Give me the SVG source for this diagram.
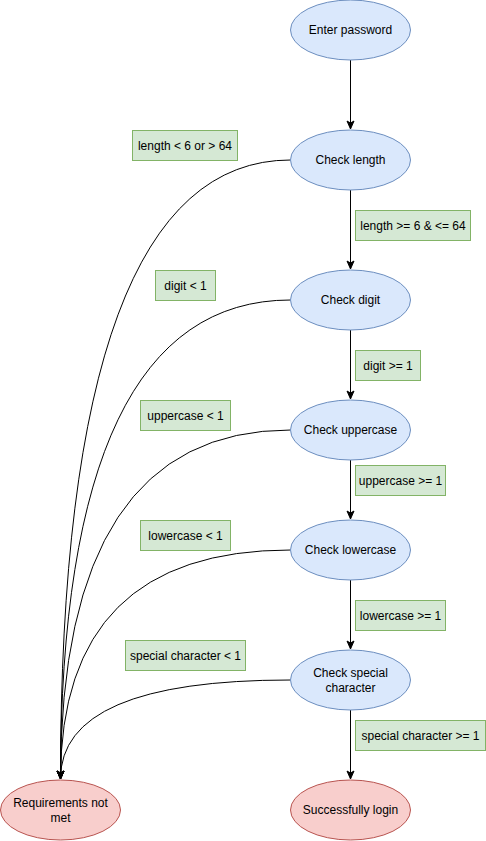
<svg xmlns="http://www.w3.org/2000/svg" width="486" height="841" viewBox="0 0 486 841">
<defs>
<marker id="arr" markerWidth="10" markerHeight="10" viewBox="0 0 10 10" refX="9" refY="5" orient="auto" markerUnits="userSpaceOnUse">
<path d="M1,1.5 L9,5 L1,8.5 L3,5 Z" fill="#000" stroke="#000" stroke-width="1"/>
</marker>
</defs>
<style>
text{font-family:"Liberation Sans",Arial,sans-serif;font-size:12px;fill:#000;text-anchor:middle}
.b{fill:#dae8fc;stroke:#6c8ebf;stroke-width:1}
.r{fill:#f8cecc;stroke:#b85450;stroke-width:1}
.g{fill:#d5e8d4;stroke:#82b366;stroke-width:1}
.e{fill:none;stroke:#000;stroke-width:1;marker-end:url(#arr)}
</style>
<rect width="486" height="841" fill="#fff"/>
<g id="connectors">
<path class="e" d="M350.5,60 L350.5,129"/>
<path class="e" d="M350.5,190 L350.5,269"/>
<path class="e" d="M350.5,330 L350.5,399"/>
<path class="e" d="M350.5,460 L350.5,519"/>
<path class="e" d="M350.5,580 L350.5,649"/>
<path class="e" d="M350.5,710 L350.5,779"/>
<path class="e" d="M290.5,160 Q60.5,160 60.5,779"/>
<path class="e" d="M290.5,300 Q60.5,300 60.5,779"/>
<path class="e" d="M290.5,430 Q60.5,430 60.5,779"/>
<path class="e" d="M290.5,550 Q60.5,550 60.5,779"/>
<path class="e" d="M290.5,680 Q60.5,680 60.5,779"/>
</g>
<g id="labels">
<g id="l1"><rect class="g" x="355.5" y="210.5" width="115" height="30"/><text x="413" y="229.5">length &gt;= 6 &amp; &lt;= 64</text></g>
<g id="l2"><rect class="g" x="355.5" y="350.5" width="65" height="30"/><text x="388" y="369.5">digit &gt;= 1</text></g>
<g id="l3"><rect class="g" x="355.5" y="465.5" width="90" height="30"/><text x="400.5" y="484.5">uppercase &gt;= 1</text></g>
<g id="l4"><rect class="g" x="355.5" y="600.5" width="90" height="30"/><text x="400.5" y="619.5">lowercase &gt;= 1</text></g>
<g id="l5"><rect class="g" x="355.5" y="720.5" width="130" height="30"/><text x="420.5" y="739.5">special character &gt;= 1</text></g>
<g id="l6"><rect class="g" x="132.5" y="130.5" width="105" height="30"/><text x="185" y="149.5">length &lt; 6 or &gt; 64</text></g>
<g id="l7"><rect class="g" x="155.5" y="270.5" width="60" height="30"/><text x="185.5" y="289.5">digit &lt; 1</text></g>
<g id="l8"><rect class="g" x="140.5" y="400.5" width="90" height="30"/><text x="185.5" y="419.5">uppercase &lt; 1</text></g>
<g id="l9"><rect class="g" x="140.5" y="520.5" width="90" height="30"/><text x="185.5" y="539.5">lowercase &lt; 1</text></g>
<g id="l10"><rect class="g" x="125.5" y="640.5" width="120" height="30"/><text x="185.5" y="659.5">special character &lt; 1</text></g>
</g>
<g id="enter"><ellipse class="b" cx="350.5" cy="30" rx="60" ry="30"/><text x="350.5" y="34">Enter password</text></g>
<g id="length"><ellipse class="b" cx="350.5" cy="160" rx="60" ry="30"/><text x="350.5" y="164">Check length</text></g>
<g id="digit"><ellipse class="b" cx="350.5" cy="300" rx="60" ry="30"/><text x="350.5" y="304">Check digit</text></g>
<g id="upper"><ellipse class="b" cx="350.5" cy="430" rx="60" ry="30"/><text x="350.5" y="434">Check uppercase</text></g>
<g id="lower"><ellipse class="b" cx="350.5" cy="550" rx="60" ry="30"/><text x="350.5" y="554">Check lowercase</text></g>
<g id="special"><ellipse class="b" cx="350.5" cy="680" rx="60" ry="30"/><text x="350.5" y="677">Check special</text><text x="350.5" y="692">character</text></g>
<g id="success"><ellipse class="r" cx="350.5" cy="810" rx="60" ry="30"/><text x="350.5" y="814">Successfully login</text></g>
<g id="fail"><ellipse class="r" cx="60.5" cy="810" rx="60" ry="30"/><text x="60.5" y="807">Requirements not</text><text x="60.5" y="822">met</text></g>
</svg>
